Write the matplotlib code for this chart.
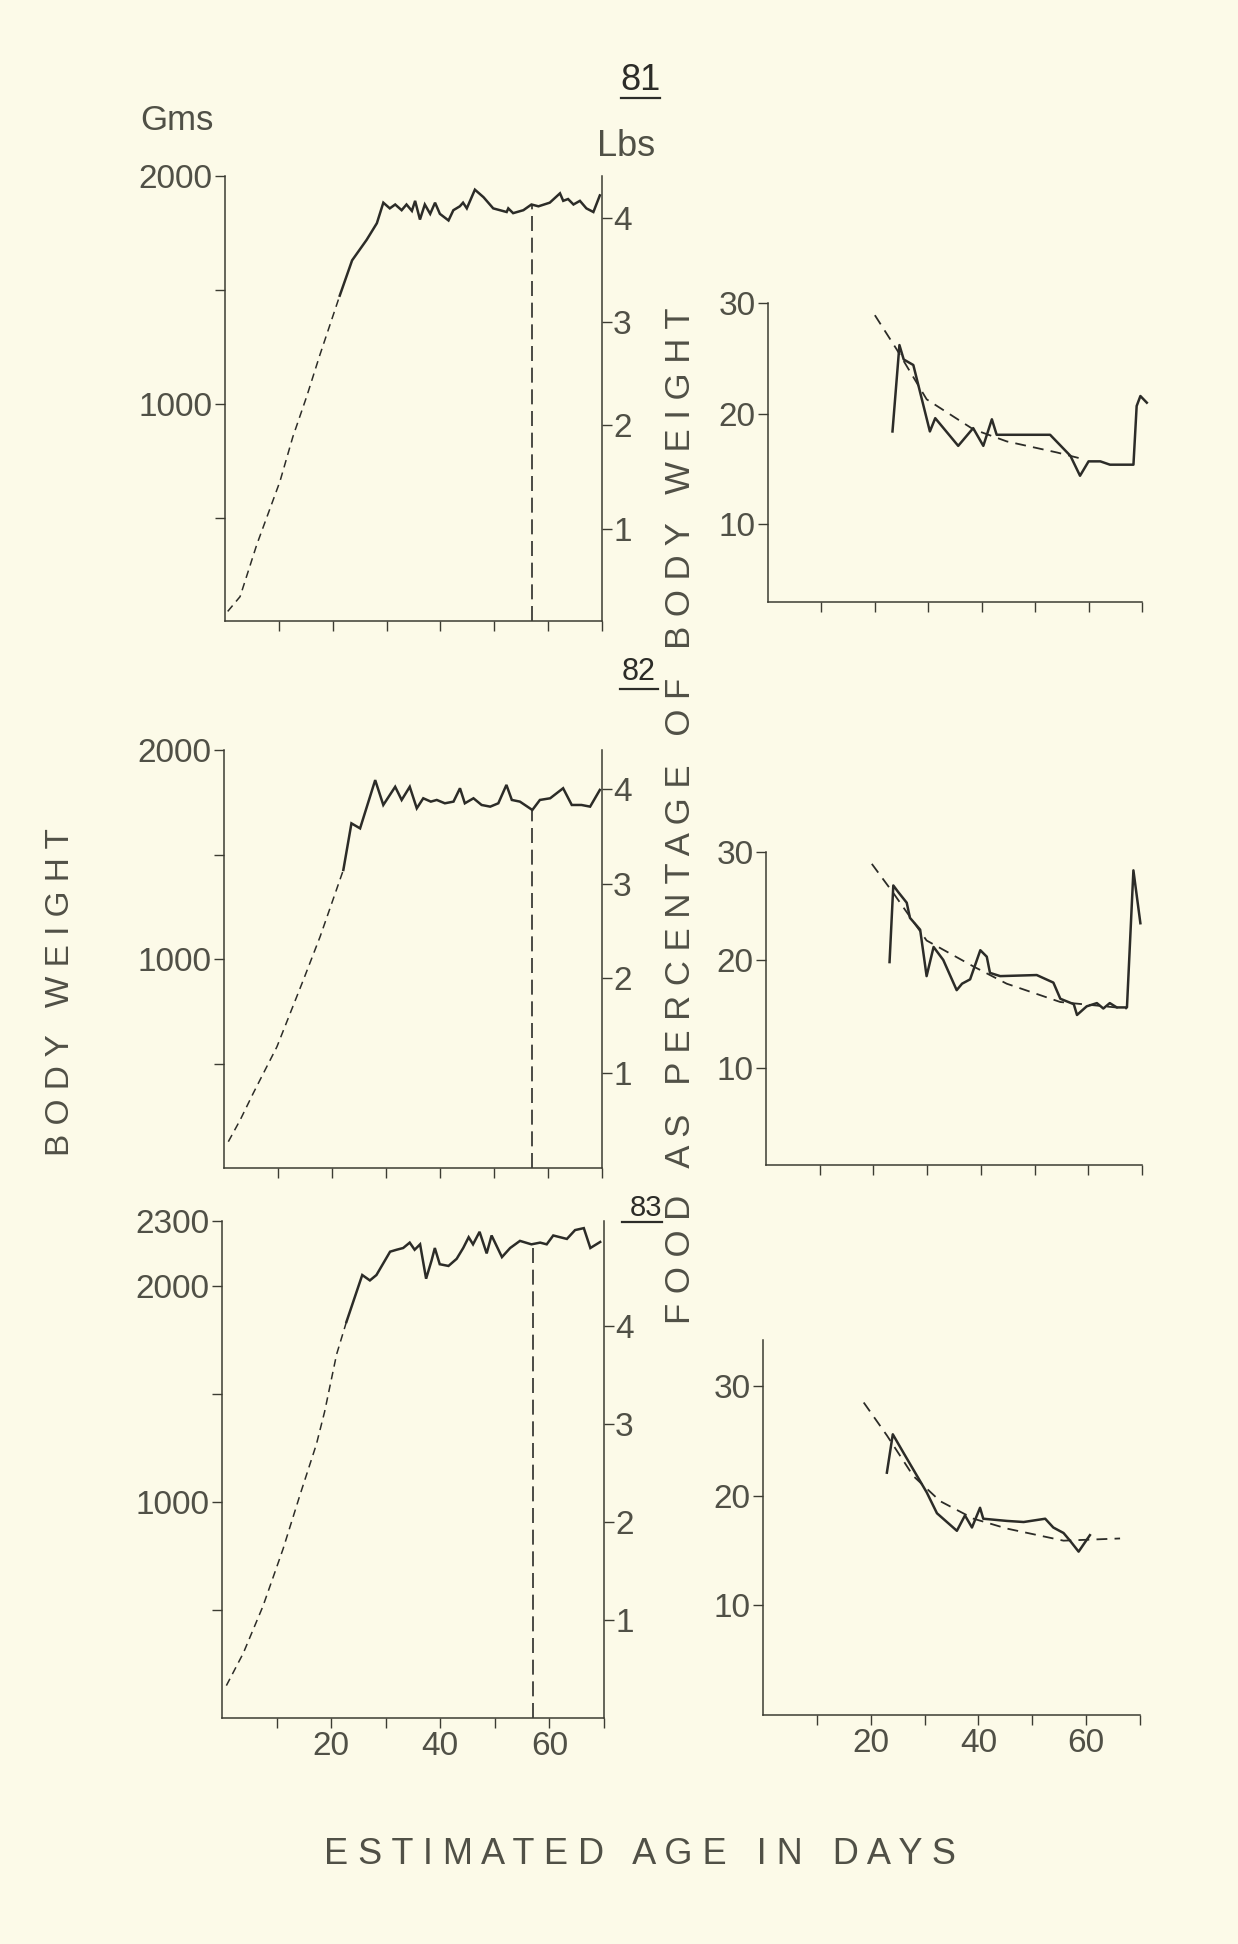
import matplotlib
matplotlib.use("Agg")
import matplotlib.pyplot as plt
import numpy as np
from matplotlib.lines import Line2D

plt.rcParams['font.family'] = ['Liberation Sans', 'DejaVu Sans']

W, H = 1238, 1944
PAPER = '#fcfae8'
INK = '#2c2c28'
AXIS = '#3c3c32'
LABEL = '#505046'

# ---- shared axis definitions ----
age_ticks = [10, 20, 30, 40, 50, 60, 70]
age_labels = [20, 40, 60]
lb_ticks = [1, 2, 3, 4]
pct_ticks = [10, 20, 30]
marker_day = 57

# ---- bird 81: body weight (g) ----
est_days_81 = [0.5, 2.8, 5.9, 10.2, 12.6, 15.2, 17.6, 21.3]
est_g_81 = [90, 155, 383, 660, 856, 1035, 1214, 1475]
obs_days_81 = [21.3, 23.6, 26.3, 28.2, 29.4, 30.6, 31.6, 32.8, 33.7, 34.7, 35.3,
               36.2, 37.1, 38.1, 39.0, 39.9, 41.5, 42.4, 43.6, 44.2, 44.9, 46.4,
               48.0, 49.8, 52.3, 52.6, 53.5, 55.4, 56.9, 58.2, 60.3, 62.2, 62.8,
               63.7, 64.7, 65.9, 67.1, 68.4, 69.6]
obs_g_81 = [1475, 1630, 1720, 1793, 1883, 1858, 1875, 1850, 1875, 1847, 1891,
            1809, 1875, 1834, 1883, 1834, 1805, 1850, 1867, 1883, 1858, 1940,
            1907, 1858, 1842, 1858, 1837, 1850, 1875, 1867, 1883, 1924, 1891,
            1899, 1875, 1891, 1858, 1842, 1915]

# ---- bird 82: body weight (g) ----
est_days_82 = [0.8, 3.0, 5.4, 9.8, 14.7, 17.8, 22.1]
est_g_82 = [126, 230, 357, 580, 900, 1107, 1426]
obs_days_82 = [22.1, 23.6, 25.2, 28.0, 29.5, 31.7, 32.9, 34.4, 35.7, 36.9, 38.3,
               39.4, 40.9, 42.5, 43.7, 44.6, 46.2, 47.7, 49.3, 50.8, 52.3, 53.3,
               54.8, 57.1, 58.5, 60.4, 62.8, 64.4, 66.2, 67.8, 69.6]
obs_g_82 = [1426, 1649, 1625, 1856, 1737, 1824, 1761, 1824, 1721, 1769, 1753,
            1761, 1745, 1753, 1817, 1745, 1769, 1737, 1729, 1745, 1833, 1761,
            1753, 1713, 1761, 1769, 1817, 1737, 1737, 1729, 1809]

# ---- bird 83: body weight (g) ----
est_days_83 = [0.8, 3.9, 7.5, 11.2, 14.3, 17.3, 18.8, 21.0, 22.8]
est_g_83 = [150, 300, 517, 783, 1033, 1267, 1417, 1683, 1833]
obs_days_83 = [22.8, 25.7, 27.1, 28.3, 30.8, 32.0, 33.2, 34.4, 35.3, 36.3, 37.4,
               38.4, 39.0, 39.9, 41.5, 43.0, 44.2, 45.2, 46.0, 47.2, 48.5, 49.4,
               51.3, 52.8, 54.6, 56.7, 58.3, 59.5, 60.7, 63.2, 64.7, 66.3, 67.5,
               69.3]
obs_g_83 = [1833, 2050, 2025, 2050, 2158, 2167, 2175, 2200, 2167, 2192, 2033,
            2117, 2175, 2100, 2092, 2125, 2175, 2225, 2192, 2250, 2150, 2233,
            2133, 2175, 2208, 2192, 2200, 2192, 2233, 2217, 2258, 2267, 2175,
            2203]

# ---- food eaten as % of body weight ----
trend_days_81 = [20.0, 24.1, 29.7, 38.4, 44.7, 54.1, 59.0]
trend_pct_81 = [28.9, 25.8, 21.3, 18.6, 17.5, 16.5, 15.9]
food_days_81 = [23.3, 24.6, 25.4, 27.2, 30.3, 31.3, 35.6, 38.4, 40.3, 41.9, 42.8,
                52.8, 56.6, 58.4, 60.0, 62.2, 64.0, 68.4, 69.0, 69.7, 70.9]
food_pct_81 = [18.4, 26.2, 24.9, 24.4, 18.4, 19.6, 17.1, 18.7, 17.1, 19.5, 18.1,
               18.1, 16.2, 14.4, 15.7, 15.7, 15.4, 15.4, 20.7, 21.6, 21.0]

trend_days_82 = [19.7, 23.7, 29.9, 38.6, 44.8, 54.8, 67.2]
trend_pct_82 = [28.9, 26.2, 21.8, 19.4, 17.8, 16.1, 15.5]
food_days_82 = [23.0, 23.7, 24.6, 26.2, 26.8, 28.7, 29.9, 31.2, 33.0, 35.5, 36.5,
                38.0, 39.9, 41.1, 41.7, 43.6, 50.4, 53.5, 54.8, 57.3, 57.9, 59.7,
                61.6, 62.8, 64.0, 65.3, 67.2, 68.4, 69.7]
food_pct_82 = [19.8, 26.9, 26.3, 25.3, 23.9, 22.8, 18.5, 21.2, 20.0, 17.2, 17.8,
               18.2, 20.9, 20.3, 18.8, 18.5, 18.6, 17.9, 16.4, 15.9, 14.9, 15.7,
               16.0, 15.5, 16.0, 15.6, 15.6, 28.3, 23.4]

trend_days_83 = [18.7, 23.0, 27.9, 32.9, 39.1, 45.3, 55.8, 66.3]
trend_pct_83 = [28.5, 25.5, 21.8, 19.5, 17.9, 17.0, 15.9, 16.1]
food_days_83 = [23.0, 24.1, 26.1, 30.4, 32.3, 36.0, 37.5, 38.8, 40.3, 40.9, 45.3,
                48.4, 52.4, 53.9, 55.8, 57.0, 58.6, 60.7]
food_pct_83 = [22.1, 25.6, 23.9, 20.3, 18.4, 16.8, 18.2, 17.1, 18.9, 17.9, 17.7,
               17.6, 17.9, 17.1, 16.6, 15.9, 14.9, 16.4]


def rect(x0, y0, x1, y1):
    return [x0 / W, 1 - y1 / H, (x1 - x0) / W, (y1 - y0) / H]


def base_style(ax, show_age_labels):
    ax.set_facecolor('none')
    ax.spines['top'].set_visible(False)
    ax.spines['right'].set_visible(False)
    for s in ('left', 'bottom'):
        ax.spines[s].set_color(AXIS)
        ax.spines[s].set_linewidth(1.1)
    ax.set_xlim(0, 70)
    ax.set_xticks(age_ticks)
    ax.set_xticklabels([str(t) if (show_age_labels and t in age_labels) else ''
                        for t in age_ticks])
    ax.tick_params(direction='out', length=7, width=1.0, color=AXIS,
                   labelsize=24, labelcolor=LABEL, pad=2)


def g_to_lb(g):
    return np.asarray(g) / 453.6


def lb_to_g(lb):
    return np.asarray(lb) * 453.6


fig = plt.figure(figsize=(W / 100, H / 100), dpi=100, facecolor=PAPER)

weight_panels = [
    ((225, 176, 602, 621), (48, 2000), [500, 1000, 1500, 2000],
     ['', '1000', '', '2000'], est_days_81, est_g_81, obs_days_81, obs_g_81, False),
    ((224, 750, 602, 1168), (0, 2000), [500, 1000, 1500, 2000],
     ['', '1000', '', '2000'], est_days_82, est_g_82, obs_days_82, obs_g_82, False),
    ((222, 1221, 604, 1718), (0, 2300), [500, 1000, 1500, 2000, 2300],
     ['', '1000', '', '2000', '2300'], est_days_83, est_g_83, obs_days_83, obs_g_83, True),
]

for box, ylim, yt, ytl, ed, eg, od, og, bottom in weight_panels:
    ax = fig.add_axes(rect(*box))
    base_style(ax, bottom)
    ax.set_ylim(*ylim)
    ax.set_yticks(yt)
    ax.set_yticklabels(ytl)
    ax.plot(ed, eg, ls=(0, (5, 3.5)), lw=1.1, color=INK)
    ax.plot(od, og, lw=1.8, color=INK, solid_joinstyle='miter')
    top = np.interp(marker_day, od, og)
    ax.vlines(marker_day, ylim[0], top, linestyles=[(0, (9, 4))], lw=1.2, color=INK)
    sec = ax.secondary_yaxis('right', functions=(g_to_lb, lb_to_g))
    sec.set_yticks(lb_ticks)
    sec.set_yticklabels([str(t) for t in lb_ticks])
    sec.spines['right'].set_color(AXIS)
    sec.spines['right'].set_linewidth(1.1)
    sec.tick_params(direction='out', length=7, width=1.0, color=AXIS,
                    labelsize=24, labelcolor=LABEL, pad=1)

food_panels = [
    ((768, 303, 1142, 602), (3, 30), trend_days_81, trend_pct_81,
     food_days_81, food_pct_81, False),
    ((766, 852, 1142, 1165), (1, 30), trend_days_82, trend_pct_82,
     food_days_82, food_pct_82, False),
    ((763, 1340, 1140, 1715), (0, 34.2), trend_days_83, trend_pct_83,
     food_days_83, food_pct_83, True),
]

for box, ylim, td, tp, fd, fp, bottom in food_panels:
    ax = fig.add_axes(rect(*box))
    base_style(ax, bottom)
    ax.set_ylim(*ylim)
    ax.set_yticks(pct_ticks)
    ax.set_yticklabels([str(t) for t in pct_ticks])
    ax.plot(td, tp, ls=(0, (6, 4)), lw=1.3, color=INK, clip_on=False)
    ax.plot(fd, fp, lw=1.8, color=INK, clip_on=False)


def ftext(x, y, s, **kw):
    kw.setdefault('color', LABEL)
    fig.text(x / W, 1 - y / H, s, **kw)


def underline(x0, x1, y):
    fig.add_artist(Line2D([x0 / W, x1 / W], [1 - y / H, 1 - y / H],
                          transform=fig.transFigure, color=INK, lw=1.6))


def spaced(text, letter_gap=' ', word_gap='   '):
    return word_gap.join(letter_gap.join(w) for w in text.split())


# bird numbers
ftext(641, 80, '81', fontsize=26, ha='center', va='center', color=INK)
underline(621, 660, 98)
ftext(639, 672, '82', fontsize=22, ha='center', va='center', color=INK)
underline(620, 658, 689)
ftext(646, 1208, '83', fontsize=21, ha='center', va='center', color=INK)
underline(622, 662, 1222)

# unit labels
ftext(177, 120, 'Gms', fontsize=25, ha='center', va='center')
ftext(597, 146, 'Lbs', fontsize=26, ha='left', va='center')

# axis titles
ftext(681, 816, spaced('FOOD AS PERCENTAGE OF BODY WEIGHT'), fontsize=25,
      rotation=90, ha='center', va='center')
ftext(61, 992, spaced('BODY WEIGHT'), fontsize=24, rotation=90,
      ha='center', va='center')
ftext(640, 1855, spaced('ESTIMATED AGE IN DAYS', ' ', '   '), fontsize=26,
      ha='center', va='center')

fig.savefig('out.png', dpi=100, facecolor=PAPER)
